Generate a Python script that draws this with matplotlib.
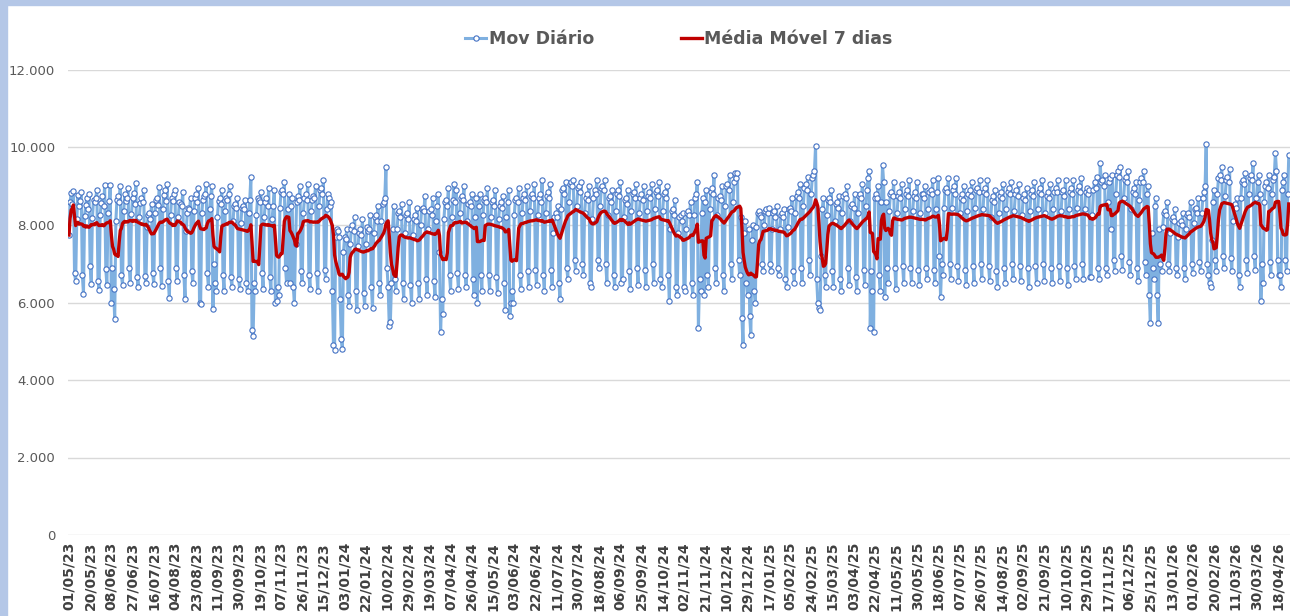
import numpy as np
import pandas as pd
import matplotlib
matplotlib.use('Agg')
import matplotlib.pyplot as plt
from matplotlib.patches import Rectangle
from matplotlib.ticker import FuncFormatter

# daily values, one line per week (Mon..Sun); 01/05/23 is a Monday
mov_2023 = [
    7740, 8600, 8820, 8550, 8880, 6750, 6560,
    8150, 8780, 8480, 8620, 8840, 6700, 6230,
    8230, 8520, 8700, 8410, 8810, 6930, 6480,
    8180, 8640, 8590, 8700, 8900, 6560, 6330,
    8260, 8580, 8740, 8480, 9020, 6860, 6450,
    8300, 8620, 9030, 5990, 6900, 6350, 5570,
    8100, 8650, 8760, 8600, 9000, 6700, 6450,
    8350, 8800, 8620, 8700, 8950, 6900, 6500,
    8280, 8700, 8830, 8550, 9080, 6650, 6400,
    8200, 8560, 8690, 8600, 8900, 6680, 6500,
    7950, 8250, 8300, 8150, 8550, 6750, 6480,
    8300, 8640, 8700, 8520, 8980, 6900, 6420,
    8400, 8780, 8900, 8610, 9050, 6550, 6120,
    8250, 8700, 8620, 8800, 8900, 6900, 6550,
    8200, 8600, 8550, 8480, 8850, 6700, 6100,
    7850, 8300, 8450, 8400, 8700, 6800, 6500,
    8350, 8700, 8800, 8600, 8950, 5980, 5950,
    8300, 8650, 8750, 8800, 9050, 6750, 6400,
    8400, 8750, 9000, 5830, 7000, 6500, 6300,
    8200, 8620, 8700, 8540, 8900, 6700, 6300,
    8350, 8700, 8650, 8800, 9000, 6650, 6400,
    8100, 8500, 8550, 8450, 8700, 6600, 6350,
    8050, 8450, 8500, 8400, 8650, 6500, 6300,
    8300, 8650, 9240, 5300, 5140, 6500, 6300,
    8250, 8700, 8650, 8600, 8850, 6750, 6350,
    8200, 8600, 8700, 8500, 8950, 6650, 6300,
    8150, 8500, 8900, 5980, 6050, 6400, 6200,
    8450, 8850, 8900, 8800, 9100, 6900, 6500,
    8400, 8800, 6500, 8500, 8700, 6400, 6000,
    7500, 8600, 8750, 8650, 9000, 6800, 6500,
    8300, 8700, 8800, 8650, 9050, 6700, 6350,
    8350, 8650, 8750, 8700, 9000, 6750, 6300,
    8500, 8900, 8950, 8800, 9150, 6850, 6600,
    8400, 8800, 8700, 8500, 8600, 6300, 4900,
    4780, 7700, 7900, 7850, 7700, 6100, 5050,
]

mov_2024 = [
    4800, 7300, 7700, 7650, 7900, 6200, 5900,
    7500, 7900, 8000, 7850, 8200, 6300, 5800,
    7450, 7800, 7900, 7750, 8150, 6250, 5900,
    7500, 7950, 7850, 7900, 8250, 6400, 5850,
    7800, 8200, 8250, 8100, 8500, 6500, 6200,
    8100, 8550, 8600, 8700, 9500, 6900, 6400,
    5400, 5500, 6500, 7900, 8500, 6600, 6300,
    7900, 8300, 8350, 8200, 8550, 6500, 6100,
    7800, 8250, 8300, 8150, 8600, 6450, 6000,
    7750, 8150, 8250, 8100, 8450, 6500, 6100,
    8000, 8400, 8450, 8350, 8750, 6600, 6200,
    7900, 8350, 8400, 8250, 8700, 6550, 6150,
    8100, 8500, 8800, 7300, 5240, 6100, 5700,
    8150, 8600, 8650, 8500, 8950, 6700, 6300,
    8200, 8650, 9050, 8600, 8900, 6750, 6350,
    8300, 8700, 8750, 8650, 9000, 6700, 6400,
    8100, 8550, 8600, 8500, 8800, 6600, 6200,
    8200, 8700, 6000, 8500, 8800, 6700, 6300,
    8250, 8650, 8700, 8600, 8950, 6700, 6300,
    8200, 8600, 8650, 8500, 8900, 6650, 6250,
    8150, 8500, 8600, 8450, 8750, 6500, 5800,
    8200, 8600, 8900, 5650, 6000, 6300, 6000,
    8250, 8650, 8700, 8600, 8950, 6700, 6350,
    8300, 8700, 8800, 8650, 9000, 6800, 6400,
    8350, 8750, 8800, 8700, 9050, 6850, 6450,
    8250, 8700, 8800, 8600, 9150, 6700, 6300,
    8300, 8750, 8850, 8700, 9050, 6850, 6400,
    7800, 8200, 8300, 8200, 8500, 6500, 6100,
    8400, 8900, 8950, 8800, 9100, 6900, 6600,
    8600, 9050, 9100, 9000, 9150, 7100, 6800,
    8500, 8950, 9000, 8850, 9100, 7000, 6700,
    8300, 8700, 8800, 8650, 9000, 6500, 6400,
    8150, 8700, 8900, 8800, 9150, 7100, 6900,
    8500, 8950, 9000, 8900, 9150, 7000, 6500,
    8250, 8700, 8750, 8600, 8900, 6700, 6400,
    8350, 8800, 8900, 8750, 9100, 6500, 6600,
    8200, 8650, 8700, 8550, 8900, 6800, 6350,
    8350, 8800, 8850, 8700, 9050, 6900, 6450,
    8300, 8700, 8800, 8650, 9000, 6850, 6400,
    8350, 8750, 8850, 8700, 9050, 7000, 6500,
    8400, 8850, 8900, 8750, 9100, 6600, 6400,
    8350, 8800, 8850, 8700, 9000, 6700, 6050,
    7900, 8350, 8400, 8250, 8650, 6400, 6200,
    7800, 8200, 8250, 8100, 8300, 6400, 6300,
    7900, 8300, 8350, 8250, 8600, 6500, 6200,
    8250, 8700, 8800, 9100, 5330, 6600, 6300,
    8300, 8700, 6200, 8600, 8900, 6700, 6400,
    8400, 8850, 8950, 8800, 9300, 6900, 6500,
    8250, 8700, 8750, 8650, 9000, 6700, 6300,
    8500, 9000, 9050, 8900, 9300, 7000, 6600,
    8600, 9100, 9350, 9200, 9350, 7100, 6700,
    8200, 5600, 4900, 7800, 8100, 6500, 6200,
    7900, 5650,
]

mov_2025 = [
                5150, 7600, 8000, 6300, 6000,
    7950, 8300, 8350, 8250, 8200, 7000, 6800,
    8000, 8350, 8400, 8300, 8450, 7000, 6800,
    7900, 8300, 8350, 8200, 8500, 6900, 6700,
    7900, 8250, 8300, 8200, 8400, 6600, 6400,
    7950, 8400, 8450, 8350, 8700, 6800, 6500,
    8300, 8750, 8850, 8700, 9050, 6900, 6500,
    8500, 8950, 9050, 8900, 9250, 7100, 6700,
    8800, 9200, 9300, 9400, 10050, 6600, 6000,
    5850, 5800, 7200, 8400, 8700, 6700, 6400,
    8250, 8650, 8700, 8600, 8900, 6800, 6400,
    8100, 8550, 8600, 8450, 8750, 6600, 6300,
    8300, 8750, 8800, 8700, 9000, 6900, 6450,
    8100, 8500, 8550, 8450, 8800, 6650, 6300,
    8300, 8750, 8800, 8700, 9050, 6850, 6450,
    8500, 8900, 9200, 9400, 5350, 6800, 6300,
    5240, 8700, 8800, 8700, 9000, 6700, 6300,
    8600, 9550, 9100, 6150, 8600, 6900, 6500,
    8350, 8800, 8850, 8750, 9100, 6900, 6350,
    8300, 8750, 8850, 8700, 9050, 6950, 6500,
    8400, 8800, 8900, 8750, 9150, 6900, 6500,
    8350, 8750, 8850, 8700, 9100, 6850, 6450,
    8300, 8800, 8800, 8700, 9000, 6900, 6600,
    8400, 8850, 8900, 8800, 9150, 6850, 6500,
    8400, 8850, 9200, 7200, 6150, 7000, 6700,
    8450, 8900, 8950, 8850, 9200, 7000, 6600,
    8450, 8900, 9000, 8800, 9200, 6950, 6550,
    8300, 8700, 8800, 8650, 9000, 6850, 6450,
    8350, 8800, 8900, 8750, 9100, 6950, 6500,
    8450, 8900, 8950, 8850, 9150, 7000, 6600,
    8400, 8850, 8950, 8800, 9150, 6950, 6550,
    8200, 8650, 8750, 8600, 8900, 6800, 6400,
    8300, 8750, 8850, 8700, 9050, 6900, 6500,
    8400, 8850, 8950, 8800, 9100, 7000, 6600,
    8350, 8800, 8900, 8750, 9050, 6950, 6550,
    8250, 8700, 8800, 8650, 8950, 6900, 6400,
    8350, 8800, 8900, 8750, 9100, 6950, 6500,
    8400, 8850, 8950, 8800, 9150, 7000, 6550,
    8300, 8750, 8850, 8700, 9050, 6900, 6500,
    8400, 8850, 8950, 8850, 9150, 6950, 6550,
    8350, 8850, 8900, 8750, 9150, 6900, 6450,
    8400, 8850, 8950, 8800, 9150, 6950, 6600,
    8450, 8900, 9000, 8850, 9200, 7000, 6600,
    8400, 8850, 8950, 8800, 8900, 6650, 6650,
    8250, 8900, 9100, 8950, 9250, 6900, 6600,
    9600, 9100, 9150, 9000, 9300, 6900, 6700,
    8600, 9100, 9200, 7900, 9300, 7100, 6800,
    8800, 9300, 9400, 9250, 9500, 7200, 6850,
    8700, 9150, 9250, 9100, 9400, 7050, 6700,
    8400, 8850, 8950, 8800, 9100, 6900, 6550,
    8650, 9100, 9200, 9100, 9400, 7050, 6700,
    8800, 9000, 6200, 5470, 7800, 6900, 6600,
    8500, 8700, 6200,
]

mov_2026 = [
                      5470, 7900, 7000, 6800,
    7950, 8300, 8350, 8250, 8600, 7000, 6800,
    7800, 8150, 8200, 8100, 8400, 6900, 6700,
    7700, 8050, 8100, 8000, 8300, 6900, 6600,
    7900, 8250, 8300, 8200, 8600, 7000, 6750,
    8050, 8400, 8450, 8300, 8700, 7050, 6800,
    8300, 8700, 8850, 9000, 10100, 7000, 6700,
    6500, 6400, 7600, 8600, 8900, 7100, 6800,
    8800, 9200, 9300, 9150, 9500, 7200, 6900,
    8750, 9150, 9250, 9100, 9450, 7150, 6800,
    8100, 8500, 8550, 8450, 8700, 6700, 6400,
    8700, 9100, 9150, 9050, 9350, 7100, 6750,
    8800, 9200, 9300, 9150, 9600, 7200, 6850,
    8700, 9100, 9300, 8800, 6040, 7000, 6500,
    8600, 9000, 9100, 8950, 9300, 7050, 6700,
    8800, 9150, 9250, 9860, 9400, 7100, 6700,
    6700, 6400, 8900, 9100, 9300, 7100, 6800,
    8800, 9800,
]

mov = np.array(mov_2023 + mov_2024 + mov_2025 + mov_2026)
dates = pd.date_range('2023-05-01', periods=len(mov), freq='D')
media7 = pd.Series(mov).rolling(7, min_periods=1).mean()
x = np.arange(len(mov))

fig = plt.figure(figsize=(12.9, 6.16), dpi=100)
fig.patches.append(Rectangle((0, 0), 7 / 1290, 1, transform=fig.transFigure,
                             color='#B4C7E7', zorder=0))
fig.patches.append(Rectangle((0, 1 - 5 / 616), 1, 5 / 616, transform=fig.transFigure,
                             color='#B4C7E7', zorder=0))

ax = fig.add_axes([68.4 / 1290, 81 / 616, 1221.6 / 1290, 465 / 616])
ax.plot(x, mov, color='#7FB0E0', lw=2.2, marker='o', ms=3.8, mfc='white',
        mec='#4472C4', mew=0.8, label='Mov Diário', zorder=2)
ax.plot(x, media7, color='#C00000', lw=2.4, label='Média Móvel 7 dias', zorder=3)

ax.set_xlim(-0.5, 1094.1)
ax.set_ylim(0, 12000)
ax.set_yticks(range(0, 12001, 2000))
ax.yaxis.set_major_formatter(FuncFormatter(lambda v, p: f'{int(v):,}'.replace(',', '.')))
ax.set_xticks(x[::19])
ax.set_xticklabels(dates[::19].strftime('%d/%m/%y'), rotation=90,
                   fontweight='bold', fontsize=10, color='#404040')
ax.tick_params(axis='y', length=0, pad=9.5, labelsize=9.5, labelcolor='#595959')
ax.tick_params(axis='x', length=0, pad=5)
ax.grid(axis='y', color='#D9D9D9', lw=1)
ax.set_axisbelow(True)
for s in ax.spines.values():
    s.set_visible(False)

fig.legend(loc='center', bbox_to_anchor=(679 / 1290, 577 / 616), ncol=2, frameon=False,
           prop={'weight': 'bold', 'size': 12.5}, labelcolor='#595959',
           handlelength=1.2, columnspacing=5, handletextpad=0.15)

fig.savefig('out.png', dpi=100)
